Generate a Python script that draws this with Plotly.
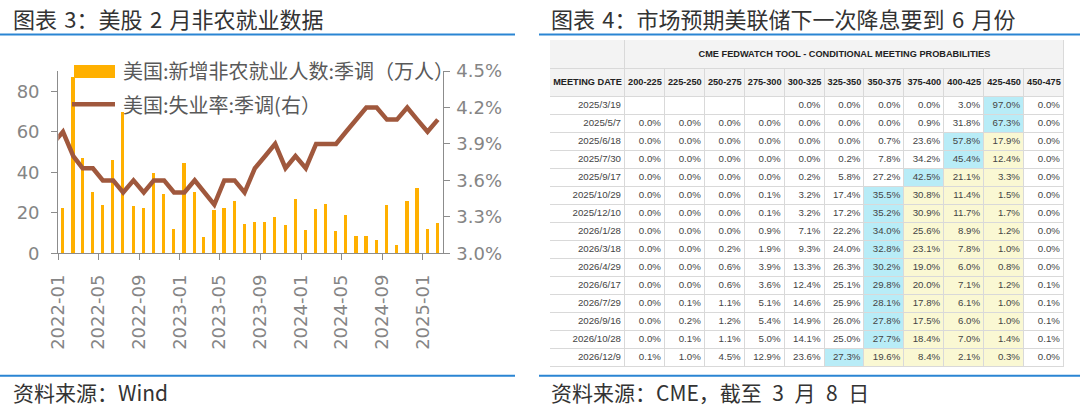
import plotly.graph_objects as go

W, H = 1080, 406

# ---------------- left chart data ----------------
nfp_months = [f"{y}-{m:02d}" for y in (2022, 2023, 2024) for m in range(1, 13)] + ["2025-01", "2025-02"]
nfp_values = [22.5, 87.2, 46.9, 30.3, 23.9, 46.1, 69.9, 23.4, 22.4, 39.8, 29.4, 12.1,
              44.4, 30.3, 8.2, 21.2, 22.4, 25.6, 14.5, 15.5, 15.5, 18.1, 13.8, 26.7,
              11.5, 21.7, 24.3, 11.2, 18.8, 8.5, 8.5, 6.6, 23.9, 4.0, 25.7, 32.2,
              12.0, 14.8]
ur_months = ["2021-12"] + nfp_months
ur_values = [3.9,
             4.0, 3.8, 3.7, 3.7, 3.6, 3.6, 3.5, 3.6, 3.5, 3.6, 3.6, 3.5,
             3.5, 3.6, 3.5, 3.4, 3.6, 3.6, 3.5, 3.7, 3.8, 3.9, 3.7, 3.8,
             3.7, 3.9, 3.9, 3.9, 4.0, 4.1, 4.2, 4.2, 4.1, 4.1, 4.2, 4.1,
             4.0, 4.1]
left_ticks = [0, 20, 40, 60, 80]
right_ticks = [3.0, 3.3, 3.6, 3.9, 4.2, 4.5]
right_ticklabels = ["3.0%", "3.3%", "3.6%", "3.9%", "4.2%", "4.5%"]
bar_name = "美国:新增非农就业人数:季调（万人）"
line_name = "美国:失业率:季调(右）"

# ---------------- table data ----------------
table_title = "CME FEDWATCH TOOL - CONDITIONAL MEETING PROBABILITIES"
date_header = "MEETING DATE"
rate_ranges = ["200-225", "225-250", "250-275", "275-300", "300-325", "325-350",
               "350-375", "375-400", "400-425", "425-450", "450-475"]
current_range = "425-450"
meeting_dates = ["2025/3/19", "2025/5/7", "2025/6/18", "2025/7/30", "2025/9/17",
                 "2025/10/29", "2025/12/10", "2026/1/28", "2026/3/18", "2026/4/29",
                 "2026/6/17", "2026/7/29", "2026/9/16", "2026/10/28", "2026/12/9"]
probabilities = [
    [None, None, None, None, 0.0, 0.0, 0.0, 0.0, 3.0, 97.0, 0.0],
    [0.0, 0.0, 0.0, 0.0, 0.0, 0.0, 0.0, 0.9, 31.8, 67.3, 0.0],
    [0.0, 0.0, 0.0, 0.0, 0.0, 0.0, 0.7, 23.6, 57.8, 17.9, 0.0],
    [0.0, 0.0, 0.0, 0.0, 0.0, 0.2, 7.8, 34.2, 45.4, 12.4, 0.0],
    [0.0, 0.0, 0.0, 0.0, 0.2, 5.8, 27.2, 42.5, 21.1, 3.3, 0.0],
    [0.0, 0.0, 0.0, 0.1, 3.2, 17.4, 35.5, 30.8, 11.4, 1.5, 0.0],
    [0.0, 0.0, 0.0, 0.1, 3.2, 17.2, 35.2, 30.9, 11.7, 1.7, 0.0],
    [0.0, 0.0, 0.0, 0.9, 7.1, 22.2, 34.0, 25.6, 8.9, 1.2, 0.0],
    [0.0, 0.0, 0.2, 1.9, 9.3, 24.0, 32.8, 23.1, 7.8, 1.0, 0.0],
    [0.0, 0.0, 0.6, 3.9, 13.3, 26.3, 30.2, 19.0, 6.0, 0.8, 0.0],
    [0.0, 0.0, 0.6, 3.6, 12.4, 25.1, 29.8, 20.0, 7.1, 1.2, 0.1],
    [0.0, 0.1, 1.1, 5.1, 14.6, 25.9, 28.1, 17.8, 6.1, 1.0, 0.1],
    [0.0, 0.2, 1.2, 5.4, 14.9, 26.0, 27.8, 17.5, 6.0, 1.0, 0.1],
    [0.0, 0.1, 1.1, 5.0, 14.1, 25.0, 27.7, 18.4, 7.0, 1.4, 0.1],
    [0.1, 1.0, 4.5, 12.9, 23.6, 27.3, 19.6, 8.4, 2.1, 0.3, 0.0],
]

# ---------------- styles ----------------
BAR_C = "#FFB000"
LINE_C = "#A0583D"
AXIS_C = "#8C8C8C"
TICK_FONT = dict(family="DejaVu Sans", size=18, color="#858585")
CJK = "Noto Sans CJK SC"
BLUE = "#2A85D3"
CYAN = "#B8ECF7"
YELLOW = "#FAF8D3"
HEAD_BG = "#F3F3F3"
GRID_C = "#D9D9D9"
SP = "\u2004"   # slightly wider space used around digits in titles
SP2 = "\u2002"  # en space used in the source line


def px(x):
    return x / W


def py(y):
    return 1 - y / H


fig = go.Figure()

# ---- left chart ----
fig.add_trace(go.Bar(
    x=[m + "-15" for m in nfp_months], y=nfp_values, name=bar_name,
    marker=dict(color=BAR_C, line=dict(width=0)), width=9.5 * 86400000,
    xaxis="x", yaxis="y", showlegend=False, hoverinfo="skip"))
fig.add_trace(go.Scatter(
    x=[m + "-15" for m in ur_months], y=ur_values, name=line_name, mode="lines",
    line=dict(color=LINE_C, width=4.5), xaxis="x", yaxis="y2",
    showlegend=False, hoverinfo="skip"))

# ---- table (heatmap cells + text) ----
date_w, rate_w = 75, 39.9
title_h, head_h, row_h = 29, 28, 18
x_edges = [0, date_w] + [date_w + rate_w * (i + 1) for i in range(len(rate_ranges))]
table_w = x_edges[-1]
y_edges = [title_h, title_h + head_h] + [title_h + head_h + row_h * (i + 1) for i in range(len(meeting_dates))]
table_h = y_edges[-1]

cur_idx = rate_ranges.index(current_range)
z = [[3] * (len(rate_ranges) + 1)]
for row in probabilities:
    vals = [v if v is not None else -1 for v in row]
    m = vals.index(max(vals))
    zr = [0]
    for j in range(len(row)):
        if j == m:
            zr.append(1)
        elif m < j <= cur_idx:
            zr.append(2)
        else:
            zr.append(0)
    z.append(zr)

cscale = [[0, "#FFFFFF"], [1 / 3, CYAN], [2 / 3, YELLOW], [1, HEAD_BG]]
fig.add_trace(go.Heatmap(
    x=[0, date_w, table_w], y=[0, title_h], z=[[3, 3]], zmin=0, zmax=3,
    colorscale=cscale, showscale=False, xgap=1, ygap=1, hoverinfo="skip",
    xaxis="x2", yaxis="y3"))
fig.add_trace(go.Heatmap(
    x=x_edges, y=y_edges, z=z, zmin=0, zmax=3, colorscale=cscale,
    showscale=False, xgap=1, ygap=1, hoverinfo="skip", xaxis="x2", yaxis="y3"))

col_centers = [(x_edges[i] + x_edges[i + 1]) / 2 for i in range(len(x_edges) - 1)]
head_y = title_h + head_h / 2
fig.add_trace(go.Scatter(
    x=[(date_w + table_w) / 2] + col_centers,
    y=[title_h / 2] + [head_y] * len(col_centers),
    text=["<b>" + t + "</b>" for t in [table_title, date_header] + rate_ranges],
    mode="text", textposition="middle center",
    textfont=dict(family="Liberation Sans", size=9.2, color="#222222"),
    xaxis="x2", yaxis="y3", showlegend=False, hoverinfo="skip", cliponaxis=False))

tx, ty, tt = [], [], []
for i, d in enumerate(meeting_dates):
    yc = (y_edges[i + 1] + y_edges[i + 2]) / 2
    tx.append(x_edges[1] - 4)
    ty.append(yc)
    tt.append(d)
    for j, v in enumerate(probabilities[i]):
        if v is None:
            continue
        tx.append(x_edges[j + 2] - 4)
        ty.append(yc)
        tt.append(f"{v:.1f}%")
fig.add_trace(go.Scatter(
    x=tx, y=ty, text=tt, mode="text", textposition="middle left",
    textfont=dict(family="Liberation Sans", size=9.7, color="#444444"),
    xaxis="x2", yaxis="y3", showlegend=False, hoverinfo="skip", cliponaxis=False))

shapes = [
    # table border background (shows through cell gaps)
    dict(type="rect", xref="x2", yref="y3", x0=0, x1=table_w, y0=0, y1=table_h,
         fillcolor=GRID_C, line=dict(color=GRID_C, width=1), layer="below"),
    # blue rules
    dict(type="line", xref="paper", yref="paper", x0=0, x1=px(515), y0=py(34.6), y1=py(34.6),
         line=dict(color=BLUE, width=2)),
    dict(type="line", xref="paper", yref="paper", x0=px(539), x1=1, y0=py(34.6), y1=py(34.6),
         line=dict(color=BLUE, width=2)),
    dict(type="line", xref="paper", yref="paper", x0=0, x1=px(515), y0=py(375.7), y1=py(375.7),
         line=dict(color=BLUE, width=2)),
    dict(type="line", xref="paper", yref="paper", x0=px(539), x1=1, y0=py(375.7), y1=py(375.7),
         line=dict(color=BLUE, width=2)),
    # legend swatches
    dict(type="rect", xref="paper", yref="paper", x0=px(74), x1=px(115), y0=py(78), y1=py(65),
         fillcolor=BAR_C, line=dict(width=0)),
    dict(type="line", xref="paper", yref="paper", x0=px(72), x1=px(115), y0=py(104.3), y1=py(104.3),
         line=dict(color=LINE_C, width=4.5)),
]


def ann(text, x, y, size, color, family=CJK):
    return dict(text=text, x=px(x), y=py(y), xref="paper", yref="paper", xanchor="left",
                yanchor="middle", showarrow=False, font=dict(family=family, size=size, color=color))


annotations = [
    ann(f"图表{SP}3：美股{SP}2{SP}月非农就业数据", 11, 17.5, 22, "#333333"),
    ann(f"图表{SP}4：市场预期美联储下一次降息要到{SP}6{SP}月份", 549, 17.5, 22, "#333333"),
    ann("资料来源：Wind", 11, 391.5, 21, "#333333"),
    ann(f"资料来源：CME，截至{SP2}3{SP2}月{SP2}8{SP2}日", 549, 391.5, 21, "#333333"),
    ann(bar_name, 121, 71, 20, "#595959"),
    ann(line_name, 121, 104, 20, "#595959"),
]

fig.update_layout(
    width=W, height=H, autosize=False,
    margin=dict(l=0, r=0, t=0, b=0),
    paper_bgcolor="white", plot_bgcolor="white",
    showlegend=False, bargap=0,
    xaxis=dict(type="date", domain=[px(58.3), px(442.5)], anchor="y", automargin=False,
               range=["2022-01-01", "2025-03-01"], tick0="2022-01-01", dtick="M4",
               tickformat="%Y-%m", tickangle=-90, ticks="outside", ticklen=6,
               tickcolor=AXIS_C, showline=True, linecolor=AXIS_C, linewidth=1.3,
               showgrid=False, zeroline=False, tickfont=TICK_FONT, ticklabelstandoff=7),
    yaxis=dict(domain=[py(253.3), py(71)], anchor="x", range=[0, 90], automargin=False,
               tickvals=left_ticks, ticks="outside", ticklen=6, tickcolor=AXIS_C,
               showline=True, linecolor=AXIS_C, linewidth=1.3, showgrid=False,
               zeroline=False, tickfont=TICK_FONT, ticklabelstandoff=8),
    yaxis2=dict(overlaying="y", side="right", anchor="x", range=[3.0, 4.5], automargin=False,
                tickvals=right_ticks, ticktext=right_ticklabels, ticks="outside",
                ticklen=6, tickcolor=AXIS_C, showline=True, linecolor=AXIS_C,
                linewidth=1.3, showgrid=False, zeroline=False, tickfont=TICK_FONT,
                ticklabelstandoff=3),
    xaxis2=dict(domain=[px(550), px(550 + table_w)], anchor="y3", range=[0, table_w],
                visible=False, fixedrange=True, automargin=False),
    yaxis3=dict(domain=[py(40 + table_h), py(40)], anchor="x2", range=[table_h, 0],
                visible=False, fixedrange=True, automargin=False),
    shapes=shapes,
    annotations=annotations,
)

fig.write_html(
    "out.html",
    config={"displayModeBar": False},
    post_script="document.body.style.margin='0px';document.body.style.overflow='hidden';",
)
